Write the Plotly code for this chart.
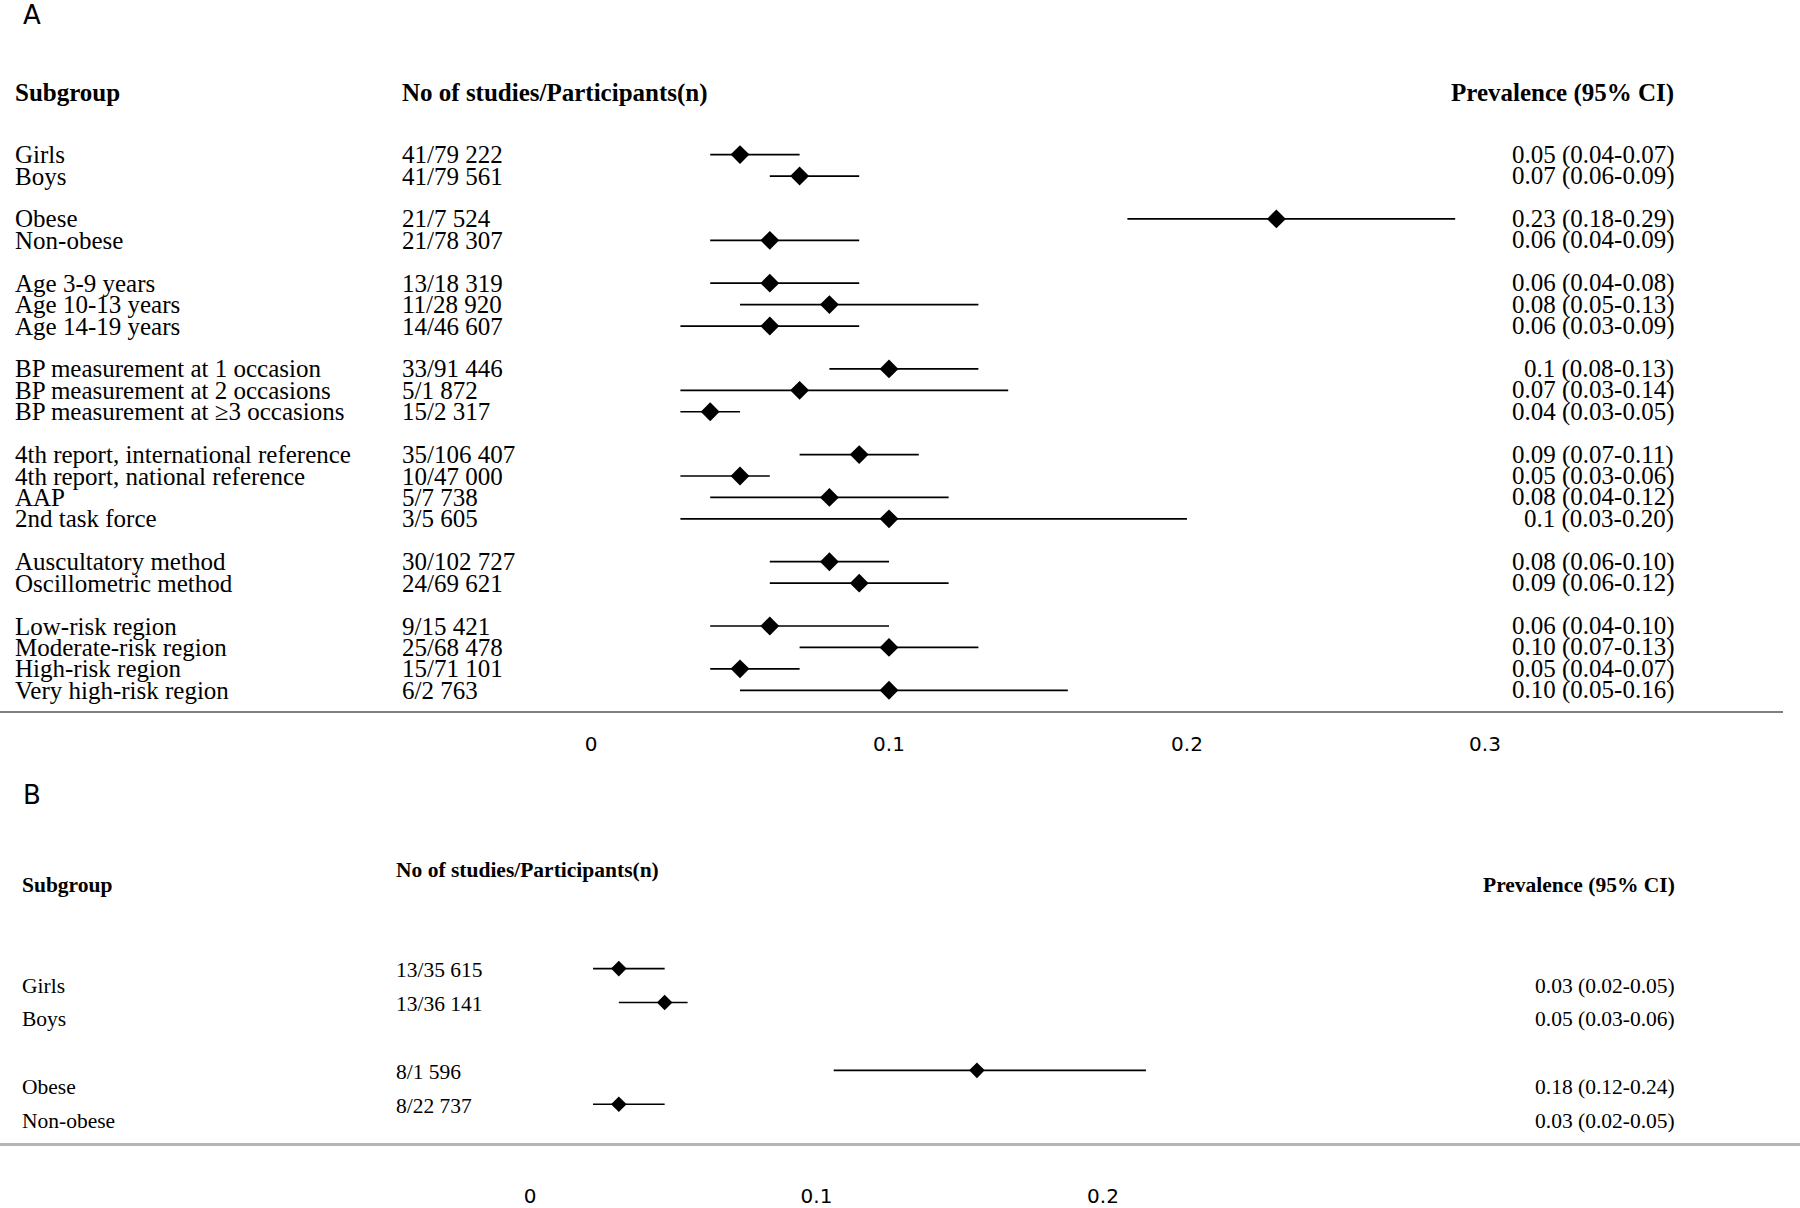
import plotly.graph_objects as go

# ---- panel A data ----
subgroups_a = ["Girls", "Boys",
               "Obese", "Non-obese",
               "Age 3-9 years", "Age 10-13 years", "Age 14-19 years",
               "BP measurement at 1 occasion", "BP measurement at 2 occasions",
               "BP measurement at \u22653 occasions",
               "4th report, international reference", "4th report, national reference",
               "AAP", "2nd task force",
               "Auscultatory method", "Oscillometric method",
               "Low-risk region", "Moderate-risk region", "High-risk region",
               "Very high-risk region"]
group_sizes_a = [2, 2, 3, 3, 4, 2, 4]
studies_a = ["41/79 222", "41/79 561", "21/7 524", "21/78 307", "13/18 319",
             "11/28 920", "14/46 607", "33/91 446", "5/1 872", "15/2 317",
             "35/106 407", "10/47 000", "5/7 738", "3/5 605", "30/102 727",
             "24/69 621", "9/15 421", "25/68 478", "15/71 101", "6/2 763"]
est_a = [0.05, 0.07, 0.23, 0.06, 0.06, 0.08, 0.06, 0.10, 0.07, 0.04,
         0.09, 0.05, 0.08, 0.10, 0.08, 0.09, 0.06, 0.10, 0.05, 0.10]
lo_a = [0.04, 0.06, 0.18, 0.04, 0.04, 0.05, 0.03, 0.08, 0.03, 0.03,
        0.07, 0.03, 0.04, 0.03, 0.06, 0.06, 0.04, 0.07, 0.04, 0.05]
hi_a = [0.07, 0.09, 0.29, 0.09, 0.09, 0.13, 0.09, 0.13, 0.14, 0.05,
        0.11, 0.06, 0.12, 0.20, 0.10, 0.12, 0.10, 0.13, 0.07, 0.16]
prev_text_a = ["0.05 (0.04-0.07)", "0.07 (0.06-0.09)", "0.23 (0.18-0.29)",
               "0.06 (0.04-0.09)", "0.06 (0.04-0.08)", "0.08 (0.05-0.13)",
               "0.06 (0.03-0.09)", "0.1 (0.08-0.13)", "0.07 (0.03-0.14)",
               "0.04 (0.03-0.05)", "0.09 (0.07-0.11)", "0.05 (0.03-0.06)",
               "0.08 (0.04-0.12)", "0.1 (0.03-0.20)", "0.08 (0.06-0.10)",
               "0.09 (0.06-0.12)", "0.06 (0.04-0.10)", "0.10 (0.07-0.13)",
               "0.05 (0.04-0.07)", "0.10 (0.05-0.16)"]
ticks_a = [0, 0.1, 0.2, 0.3]

# ---- panel B data ----
subgroups_b = ["Girls", "Boys", "Obese", "Non-obese"]
group_sizes_b = [2, 2]
studies_b = ["13/35 615", "13/36 141", "8/1 596", "8/22 737"]
est_b = [0.031, 0.047, 0.156, 0.031]
lo_b = [0.022, 0.031, 0.106, 0.022]
hi_b = [0.047, 0.055, 0.215, 0.047]
prev_text_b = ["0.03 (0.02-0.05)", "0.05 (0.03-0.06)", "0.18 (0.12-0.24)",
               "0.03 (0.02-0.05)"]
ticks_b = [0, 0.1, 0.2]

W, H = 1800, 1208
SERIF = "Liberation Serif"
SANS = "DejaVu Sans"


def row_positions(sizes):
    # one blank row between groups
    pos, r = [], 0
    for n in sizes:
        pos += list(range(r, r + n))
        r += n + 1
    return pos


def px(x):
    return x / W


def py(y):
    return 1 - y / H


rows_a = row_positions(group_sizes_a)
rows_b = row_positions(group_sizes_b)

fig = go.Figure()

fig.add_trace(go.Scatter(
    x=est_a, y=rows_a, mode="markers", xaxis="x", yaxis="y",
    marker=dict(symbol="diamond", size=14.5, color="black"),
    error_x=dict(type="data", symmetric=False,
                 array=[h - e for h, e in zip(hi_a, est_a)],
                 arrayminus=[e - l for e, l in zip(est_a, lo_a)],
                 width=0, thickness=1.7, color="black"),
    showlegend=False, hoverinfo="skip"))

fig.add_trace(go.Scatter(
    x=est_b, y=rows_b, mode="markers", xaxis="x2", yaxis="y2",
    marker=dict(symbol="diamond", size=12, color="black"),
    error_x=dict(type="data", symmetric=False,
                 array=[h - e for h, e in zip(hi_b, est_b)],
                 arrayminus=[e - l for e, l in zip(est_b, lo_b)],
                 width=0, thickness=1.7, color="black"),
    showlegend=False, hoverinfo="skip"))

ann = []
# panel A text columns
fa = dict(family=SERIF, size=25, color="black")
ann.append(dict(text="<b>Subgroup</b>", x=px(13), y=-2.88, xref="paper", yref="y",
                xanchor="left", font=fa))
ann.append(dict(text="<b>No of studies/Participants(n)</b>", x=px(400), y=-2.88,
                xref="paper", yref="y", xanchor="left", font=fa))
ann.append(dict(text="<b>Prevalence (95% CI)</b>", x=px(1676), y=-2.88,
                xref="paper", yref="y", xanchor="right", font=fa))
for r, s, n, p in zip(rows_a, subgroups_a, studies_a, prev_text_a):
    ann.append(dict(text=s, x=px(13), y=r, xref="paper", yref="y",
                    xanchor="left", font=fa))
    ann.append(dict(text=n, x=px(400), y=r, xref="paper", yref="y",
                    xanchor="left", font=fa))
    ann.append(dict(text=p, x=px(1676), y=r, xref="paper", yref="y",
                    xanchor="right", font=fa))

# panel B text columns (labels sit a bit below the markers)
fb = dict(family=SERIF, size=21.5, color="black")
off_b = 0.5
ann.append(dict(text="<b>Subgroup</b>", x=px(20), y=-2.47, xref="paper", yref="y2",
                xanchor="left", font=fb))
ann.append(dict(text="<b>No of studies/Participants(n)</b>", x=px(394), y=-2.92,
                xref="paper", yref="y2", xanchor="left", font=fb))
ann.append(dict(text="<b>Prevalence (95% CI)</b>", x=px(1677), y=-2.47,
                xref="paper", yref="y2", xanchor="right", font=fb))
for r, s, n, p in zip(rows_b, subgroups_b, studies_b, prev_text_b):
    ann.append(dict(text=s, x=px(20), y=r + off_b, xref="paper", yref="y2",
                    xanchor="left", font=fb))
    ann.append(dict(text=n, x=px(394), y=r + 0.05, xref="paper", yref="y2",
                    xanchor="left", font=fb))
    ann.append(dict(text=p, x=px(1677), y=r + off_b, xref="paper", yref="y2",
                    xanchor="right", font=fb))

# panel letters
ann.append(dict(text="A", x=px(32), y=py(15), xref="paper", yref="paper",
                xanchor="center", font=dict(family=SANS, size=26, color="black")))
ann.append(dict(text="B", x=px(32), y=py(797), xref="paper", yref="paper",
                xanchor="center", font=dict(family=SANS, size=26, color="black")))

for a in ann:
    a["showarrow"] = False
    a.setdefault("yanchor", "middle")

# pixel scales: panel A 0 at 591px, 0.1 per 298px; panel B 0 at 530px, 0.1 per 286.5px
fig.update_layout(
    width=W, height=H, margin=dict(l=0, r=0, t=0, b=0),
    paper_bgcolor="white", plot_bgcolor="white",
    annotations=ann,
    xaxis=dict(domain=[0, px(1783)], range=[-591 / 2980, 1192 / 2980],
               anchor="y", showgrid=False, zeroline=False,
               showline=True, linecolor="#808080", linewidth=1.5,
               tickvals=ticks_a, ticktext=[f"{t:g}" for t in ticks_a],
               ticks="", ticklabelstandoff=14,
               tickfont=dict(family=SANS, size=20, color="black")),
    yaxis=dict(domain=[py(713), 1], range=[(713 - 155) / 21.48, -155 / 21.48],
               anchor="x", visible=False),
    xaxis2=dict(domain=[0, 1], range=[-530 / 2865, 1270 / 2865],
                anchor="y2", showgrid=False, zeroline=False,
                showline=True, linecolor="#b4b4b4", linewidth=2.5,
                tickvals=ticks_b, ticktext=[f"{t:g}" for t in ticks_b],
                ticks="", ticklabelstandoff=33,
                tickfont=dict(family=SANS, size=20, color="black")),
    yaxis2=dict(domain=[py(1146), py(750)], range=[(1146 - 971) / 34, (750 - 971) / 34],
                anchor="x2", visible=False),
)

# the page body has a default 8px margin; drop it so the figure fills the window
fig.write_html("out.html", config={"displayModeBar": False},
               post_script="document.body.style.margin='0px';")
